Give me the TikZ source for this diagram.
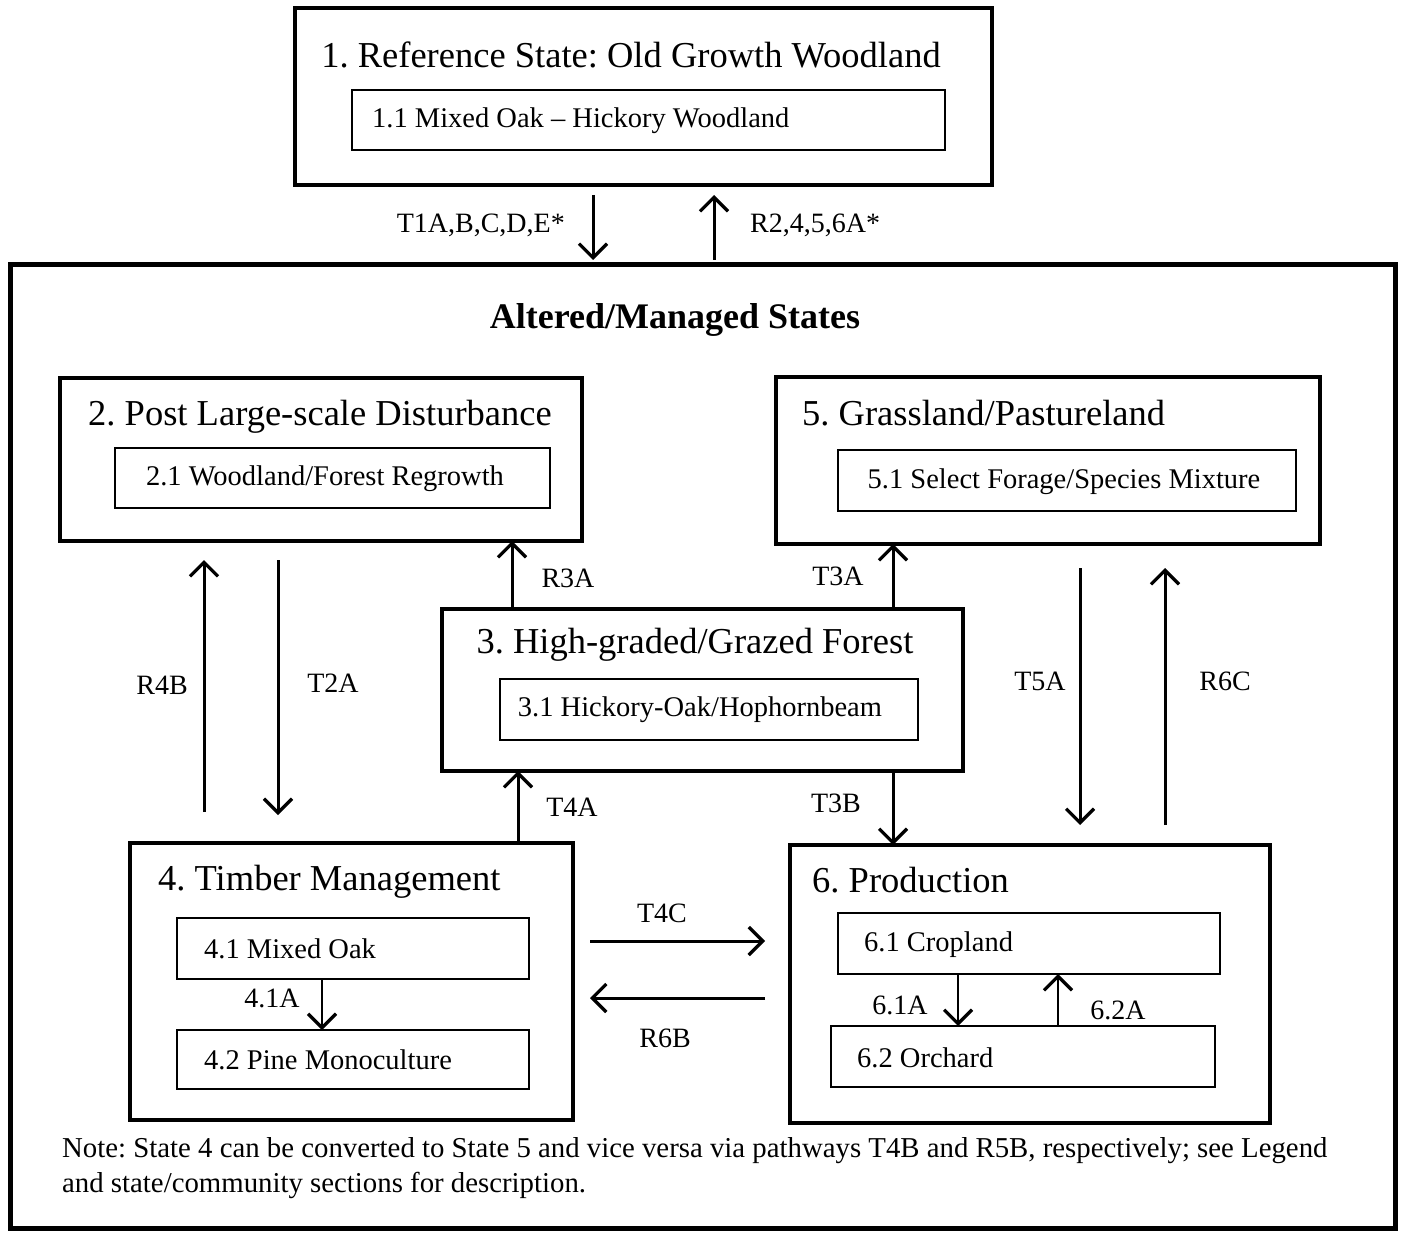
\documentclass[tikz,border=0pt]{standalone}
\usepackage{fontspec}
\setmainfont{Liberation Serif}
\usetikzlibrary{arrows.meta,calc}
\frenchspacing
\begin{document}
\begin{tikzpicture}[x=1pt,y=-1pt,
 bigbox/.style={draw, line width=5pt, inner sep=0, outer sep=0},
 statebox/.style={draw, line width=3.5pt, inner sep=0, outer sep=0},
 comm/.style={draw, line width=2.5pt, inner sep=0, outer sep=0},
 ttl/.style={font=\fontsize{36.5}{40}\selectfont, inner sep=0},
 sub/.style={font=\fontsize{28.5}{32}\selectfont, inner sep=0},
 lbl/.style={font=\fontsize{28}{32}\selectfont, inner sep=0},
 arr/.style={-{Straight Barb[length=14pt,width=28pt,line width=3.2pt]}, line width=3pt},
]
\useasboundingbox[fill=white] (0,0) rectangle (1402,1233);

% boxes
\node[statebox, minimum width=697pt, minimum height=177pt] (s1) at (643.5,96.5) {};
\node[comm, minimum width=593pt, minimum height=60pt] (c11) at (648.5,120) {};
\node[bigbox, minimum width=1385pt, minimum height=963pt] (outer) at (702.5,746.5) {};
\node[statebox, minimum width=522pt, minimum height=163pt] (s2) at (321,459.5) {};
\node[comm, minimum width=435pt, minimum height=60pt] (c21) at (332.5,478) {};
\node[statebox, minimum width=544pt, minimum height=167pt] (s5) at (1048,460.5) {};
\node[comm, minimum width=458pt, minimum height=61pt] (c51) at (1067,480.5) {};
\node[statebox, minimum width=521pt, minimum height=162pt] (s3) at (702.5,690) {};
\node[comm, minimum width=418pt, minimum height=61pt] (c31) at (709,709.5) {};
\node[statebox, minimum width=443pt, minimum height=277pt] (s4) at (351.5,981.5) {};
\node[comm, minimum width=352pt, minimum height=61pt] (c41) at (353,948.5) {};
\node[comm, minimum width=352pt, minimum height=59pt] (c42) at (353,1059.5) {};
\node[statebox, minimum width=480pt, minimum height=278pt] (s6) at (1030,984) {};
\node[comm, minimum width=382pt, minimum height=61pt] (c61) at (1029,943.5) {};
\node[comm, minimum width=384pt, minimum height=61pt] (c62) at (1023,1056.5) {};

% texts
\node[ttl] (t1) at (631,55) {1. Reference State: Old Growth Woodland};
\node[sub, anchor=west] (t11) at (372,121) {1.1 Mixed Oak -- Hickory Woodland};
\node[ttl, font=\fontsize{36}{40}\selectfont\bfseries] (tA) at (675,320) {Altered/Managed States};
\node[ttl] (t2) at (320,417) {2. Post Large-scale Disturbance};
\node[sub] (t21) at (325,479) {2.1 Woodland/Forest Regrowth};
\node[ttl, anchor=west] (t5) at (802,413) {5. Grassland/Pastureland};
\node[sub] (t51) at (1064,482) {5.1 Select Forage/Species Mixture};
\node[ttl] (t3) at (695,645) {3. High-graded/Grazed Forest};
\node[sub] (t31) at (700,710) {3.1 Hickory-Oak/Hophornbeam};
\node[ttl, anchor=west] (t4) at (158,882) {4. Timber Management};
\node[sub, anchor=west] (t41) at (204,949) {4.1 Mixed Oak};
\node[sub, anchor=west] (t42) at (204,1060) {4.2 Pine Monoculture};
\node[ttl, anchor=west] (t6) at (812,880) {6. Production};
\node[sub, anchor=west] (t61) at (864,945) {6.1 Cropland};
\node[sub, anchor=west] (t62) at (857,1058) {6.2 Orchard};

% x / y positions of connectors
\coordinate (xT1) at (593,0);
\coordinate (xR2) at (714,0);
\coordinate (xR4B) at (204,0);
\coordinate (xT2A) at (278,0);
\coordinate (xR3A) at (512,0);
\coordinate (xT3A) at (893,0);
\coordinate (xT4A) at (518,0);
\coordinate (xT5A) at (1080,0);
\coordinate (xR6C) at (1165,0);
\coordinate (yT4C) at (0,941);
\coordinate (yR6B) at (0,998);
\coordinate (x41A) at (322,0);
\coordinate (x61A) at (958,0);
\coordinate (x62A) at (1058,0);

% connectors
\draw[arr, shorten <=10pt, shorten >=5pt] (s1.south -| xT1) -- (outer.north -| xT1);
\draw[arr, shorten <=5pt, shorten >=10pt] (outer.north -| xR2) -- (s1.south -| xR2);
\draw[arr, shorten <=31pt, shorten >=19pt] (s4.north -| xR4B) -- (s2.south -| xR4B);
\draw[arr, shorten <=19pt, shorten >=28pt] (s2.south -| xT2A) -- (s4.north -| xT2A);
\draw[arr] (s3.north -| xR3A) -- (s2.south -| xR3A);
\draw[arr] (s3.north -| xT3A) -- (s5.south -| xT3A);
\draw[arr] (s4.north -| xT4A) -- (s3.south -| xT4A);
\draw[arr] (s3.south -| xT3A) -- (s6.north -| xT3A);
\draw[arr, shorten <=24pt, shorten >=20pt] (s5.south -| xT5A) -- (s6.north -| xT5A);
\draw[arr, shorten <=20pt, shorten >=24pt] (s6.north -| xR6C) -- (s5.south -| xR6C);
\draw[arr, shorten <=17pt, shorten >=25pt] (s4.east |- yT4C) -- (s6.west |- yT4C);
\draw[arr, shorten <=25pt, shorten >=17pt] (s6.west |- yR6B) -- (s4.east |- yR6B);
\draw[arr, line width=2.5pt] (c41.south -| x41A) -- (c42.north -| x41A);
\draw[arr, line width=2.5pt] (c61.south -| x61A) -- (c62.north -| x61A);
\draw[arr, line width=2.5pt] (c62.north -| x62A) -- (c61.south -| x62A);

% connector labels
\node[lbl, anchor=east] (lT1) at (565,225) {T1A,B,C,D,E*};
\node[lbl, anchor=west] (lR2) at (750,225) {R2,4,5,6A*};
\node[lbl] (lR4B) at (162,685) {R4B};
\node[lbl] (lT2A) at (333,683) {T2A};
\node[lbl] (lR3A) at (568,578) {R3A};
\node[lbl] (lT3A) at (838,576) {T3A};
\node[lbl] (lT4A) at (572,807) {T4A};
\node[lbl] (lT3B) at (836,803) {T3B};
\node[lbl] (lT5A) at (1040,681) {T5A};
\node[lbl] (lR6C) at (1225,681) {R6C};
\node[lbl] (lT4C) at (662,913) {T4C};
\node[lbl] (lR6B) at (665,1038) {R6B};
\node[lbl] (l41A) at (272,998) {4.1A};
\node[lbl] (l61A) at (900,1005) {6.1A};
\node[lbl] (l62A) at (1118,1010) {6.2A};

% note
\node[anchor=north west, align=left, inner sep=0, font=\fontsize{28.8}{35}\selectfont] (note) at (62,1137)
 {Note: State 4 can be converted to State 5 and vice versa via pathways T4B and R5B, respectively; see Legend\\
  and state/community sections for description.};
\end{tikzpicture}
\end{document}
